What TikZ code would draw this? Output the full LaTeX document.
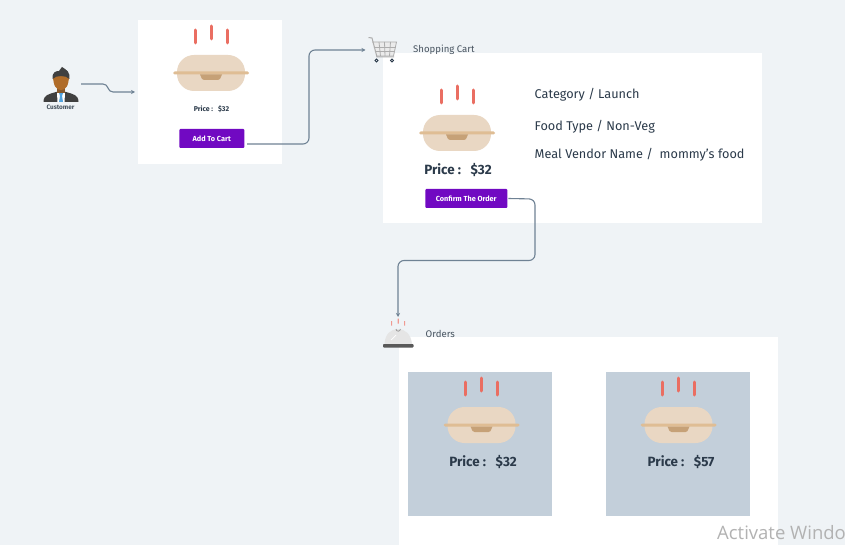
\documentclass[tikz,border=0pt]{standalone}
\usepackage{fontspec}
\setmainfont{Fira Sans}
\newfontfamily\wmfont{Open Sans}
\definecolor{bgc}{HTML}{EFF3F6}
\definecolor{tilec}{HTML}{C3CFDA}
\definecolor{steam}{HTML}{EA6E62}
\definecolor{bowl}{HTML}{E9D7C3}
\definecolor{strap}{HTML}{DFBD94}
\definecolor{latch}{HTML}{C6A177}
\definecolor{btn}{HTML}{7109C2}
\definecolor{ink}{HTML}{2B3A4A}
\definecolor{lbl}{HTML}{47535F}
\definecolor{wire}{HTML}{6F8294}
\usetikzlibrary{arrows.meta}
\tikzset{
  cardbox/.style={fill=white,draw=none,inner sep=0pt},
  tilebox/.style={fill=tilec,draw=none,inner sep=0pt},
  btnbox/.style={fill=btn,rounded corners=1pt,inner sep=0pt,text=white,font=\bfseries\fontsize{7.3}{8}\selectfont},
  wirelink/.style={draw=wire,line width=1.1pt,rounded corners=6pt,-{Stealth[length=4pt,width=4pt]}},
  price/.style={text=ink,font=\bfseries\fontsize{13.4}{15}\selectfont,inner sep=0pt},
  info/.style={text=ink,font=\fontsize{12.7}{14}\selectfont,anchor=west,inner sep=0pt},
  caption/.style={text=lbl,font=\fontsize{9.6}{10}\selectfont,anchor=west,inner sep=0pt},
  food/.pic={
    \draw[steam,line width=3pt,line cap=round] (-16,-43) -- (-16,-30);
    \draw[steam,line width=3pt,line cap=round] (0,-47) -- (0,-34);
    \draw[steam,line width=3pt,line cap=round] (16,-43) -- (16,-30);
    \fill[bowl,rounded corners=17pt] (-34,-18) rectangle (34,18);
    \fill[strap,rounded corners=1.5pt] (-38,-1.5) rectangle (38,1.5);
    \fill[latch] (-11,1.5) -- (11,1.5) -- (9,6) -- (7,7) -- (-7,7) -- (-9,6) -- cycle;
  }
}
\begin{document}
\begin{tikzpicture}[x=1pt,y=-1pt]
\useasboundingbox (0,0) rectangle (845,545);
\fill[bgc] (0,0) rectangle (845,545);
% cards
\node[cardbox,minimum width=144pt,minimum height=144pt] (card1) at (210,92) {};
\node[cardbox,minimum width=379pt,minimum height=170pt] (card2) at (572.5,138) {};
\begin{scope}
\clip (0,0) rectangle (845,545);
\node[cardbox,minimum width=379pt,minimum height=220pt] (card3) at (588.5,447) {};
\end{scope}
\node[tilebox,minimum width=144.5pt,minimum height=144pt] (tile1) at (479.75,444) {};
\node[tilebox,minimum width=144.5pt,minimum height=144pt] (tile2) at (677.75,444) {};
% food
\pic at (211,73) {food};
\pic at (457,133) {food};
\pic at (481.5,425) {food};
\pic at (678.5,425) {food};
% card 1 text
\node[text=ink,font=\bfseries\fontsize{7}{8}\selectfont,inner sep=0pt] (price1) at (211.5,109.5) {Price :\ \ \ \$32};
\node[btnbox,minimum width=65pt,minimum height=19pt] (addbtn) at (211.75,138.5) {Add To Cart};
% card 2 text
\node[price] (price2) at (458,170.2) {Price :\ \ \ \$32};
\node[btnbox,minimum width=82pt,minimum height=19pt] (confirm) at (466.25,198.5) {Confirm The Order};
\node[info] (cat) at (534.5,95) {Category / Launch};
\node[info] (type) at (534.5,127) {Food Type / Non-Veg};
\node[info] (vendor) at (534.5,155) {Meal Vendor Name /\ \ mommy's food};
% tile text
\node[price] (price3) at (483,462) {Price :\ \ \ \$32};
\node[price] (price4) at (681,462) {Price :\ \ \ \$57};
% customer
\begin{scope}[shift={(61,85)}]
  \fill[black!75] (-17.5,17) .. controls (-17.5,10) and (-12,9) .. (-5,7) -- (5,7) .. controls (12,9) and (17.5,10) .. (17.5,17) -- cycle;
  \fill[white] (-4,8) -- (4,8) -- (3.5,17) -- (-3.5,17) -- cycle;
  \fill[cyan!70!blue!70] (-2,8) -- (2,8) -- (1,11) -- (2,17) -- (-2,17) -- (-1,11) -- cycle;
  \fill[brown!70!black] (-4,2) rectangle (4,8);
  \fill[brown!75!orange!85!black] (-8,-10) .. controls (-8,2) and (-4,5) .. (0,5) .. controls (4,5) and (8,2) .. (8,-10) -- cycle;
  \fill[black!75] (-8.5,-6) .. controls (-9,-13) and (-5,-14) .. (-2,-14) -- (1,-18) .. controls (6,-15) and (9,-13) .. (8.5,-6) .. controls (5,-10) and (-5,-10) .. (-8.5,-6) -- cycle;
\end{scope}
\node[text=lbl,font=\bfseries\fontsize{6.4}{7}\selectfont,inner sep=0pt] (customer) at (60.5,107.5) {Customer};
% cart
\fill[black!8] (372,42) -- (396.5,42) -- (393.5,56) -- (376,56) -- cycle;
\begin{scope}[draw=black!32,line width=.8pt]
  \draw[line width=1pt] (368.5,37.5) -- (372,38) -- (377,57) -- (394,57);
  \draw (372,42) -- (396.5,42) -- (393.5,56) -- (376,56);
  \draw (373.5,47) -- (395.5,47) (374.5,51.5) -- (394.5,51.5);
  \draw (379,42) -- (380.5,56) (384.5,42) -- (385,56) (390.5,42) -- (389.5,56);
\end{scope}
\draw[ink,line width=.9pt] (376.5,60.5) circle (1.5pt) (392,60.5) circle (1.5pt);
\coordinate (cartin) at (365.5,50);
\node[caption] (cartlbl) at (413,50) {Shopping Cart};
% cloche
\fill[black!10] (384.5,344) .. controls (385,334) and (391,329) .. (398,329) .. controls (405,329) and (411,334) .. (412,344) -- cycle;
\draw[black!40,line width=.8pt] (396,329) arc (180:0:2.2);
\draw[white,line width=.7pt] (391,340) -- (396,335);
\fill[black!65,rounded corners=.8pt] (383,344) rectangle (413.5,347.5);
\fill[steam!70] (391,321) rectangle (392.2,325.5) (397.6,318.5) rectangle (398.8,323.5) (404,321) rectangle (405.2,325.5);
\coordinate (ordersin) at (398,317);
\node[caption] (orderslbl) at (425.5,334) {Orders};
% connectors
\coordinate (custout) at (81,84);
\coordinate (card1in) at (135,92);
\draw[wirelink,rounded corners=4pt] (custout) -- (107,84) -- (109,92) -- (card1in);
\coordinate (addout) at (247,144);
\draw[wirelink] (addout) -- (309,144) -- (309,50) -- (cartin);
\coordinate (confout) at ([xshift=1pt]confirm.east);
\draw[wirelink] (confout) -- (535,199) -- (535,260.5) -- (398,260.5) -- (ordersin);
% watermark
\node[text=black!30,font=\wmfont\fontsize{18.5}{20}\selectfont,anchor=west,inner sep=0pt] (wm) at (717,533) {Activate Windo};
\end{tikzpicture}
\end{document}
